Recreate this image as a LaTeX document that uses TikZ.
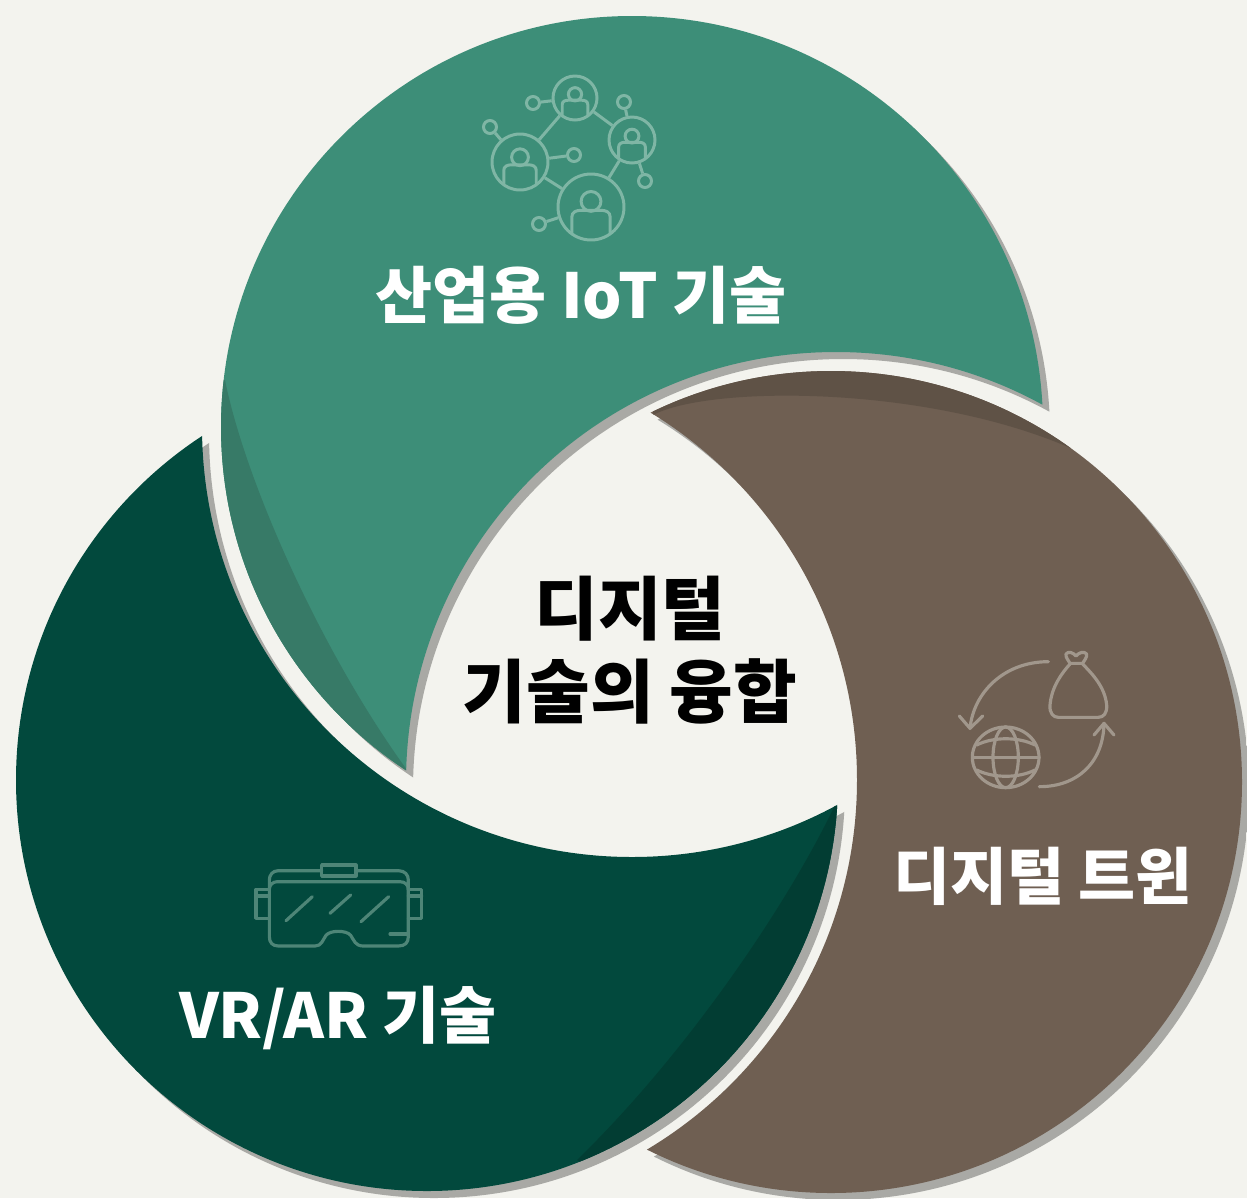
\documentclass[tikz,border=0pt]{standalone}
\usepackage{fontspec}
\newfontfamily\krfont{Noto Sans CJK KR}
\usepackage{tikz}
\usetikzlibrary{calc,positioning}

\definecolor{paper}{HTML}{F3F3EE}
\definecolor{castshadow}{HTML}{A9A9A5}
\definecolor{leaf}{HTML}{3D8E78}
\definecolor{leafdeep}{HTML}{377A67}
\definecolor{pine}{HTML}{02493D}
\definecolor{pinedeep}{HTML}{023D33}
\definecolor{soil}{HTML}{6F5F52}
\definecolor{soildeep}{HTML}{5F5246}
\definecolor{leafline}{HTML}{7FB6A5}
\definecolor{pineline}{HTML}{4E8577}
\definecolor{soilline}{HTML}{A1978C}

% one disc with a bigger neighbour disc cut away
\newcommand{\clippiece}[2]{\clip (-300,-300) rectangle (1600,1600) (#2) circle [radius=430];\clip (#1) circle [radius=411];}

\begin{document}
\begin{tikzpicture}[
    x=0.02cm, y=-0.02cm,
    title/.style={font=\krfont\bfseries\fontsize{35.3}{47}\selectfont, text=white, align=center, inner sep=0pt},
    coretitle/.style={font=\krfont\bfseries\fontsize{39.4}{47}\selectfont, text=black, align=center, inner sep=0pt},
    hub/.style={circle, draw=leafline, line width=1.7pt, inner sep=0pt, minimum size=#1},
    knob/.style={circle, draw=leafline, line width=1.7pt, inner sep=0pt, minimum size=0.26cm},
    wire/.style={leafline, line width=1.7pt},
    figure/.style={line width=1.8pt, line cap=round, line join=round}
]
    \useasboundingbox (0,0) rectangle (1247,1198);
    \fill[paper] (0,0) rectangle (1247,1198);

    \coordinate (leafc) at (632,427);
    \coordinate (pinec) at (427,780);
    \coordinate (soilc) at (831,782);
    \coordinate (soilcut) at (836,782);

    % shadows first
    \foreach \body/\gap in {leafc/soilcut, pinec/leafc, soilc/pinec} {
        \begin{scope}[even odd rule]
            \clippiece{$(\body)+(7,7)$}{$(\gap)+(7,7)$}
            \fill[castshadow] (-300,-300) rectangle (1600,1600);
        \end{scope}
    }

    % green piece
    \begin{scope}[even odd rule]
        \clippiece{leafc}{soilcut}
        \fill[leaf] (-300,-300) rectangle (1600,1600);
        \fill[leafdeep] (225,380) .. controls (245,480) and (320,650) .. (407,770) -- (100,800) -- (100,380) -- cycle;
    \end{scope}

    % dark piece
    \begin{scope}[even odd rule]
        \clippiece{pinec}{leafc}
        \fill[pine] (-300,-300) rectangle (1600,1600);
        \fill[pinedeep] (835,805) .. controls (790,900) and (690,1050) .. (577,1160) -- (800,1300) -- (1000,900) -- cycle;
    \end{scope}

    % brown piece
    \begin{scope}[even odd rule]
        \clippiece{soilc}{pinec}
        \fill[soil] (-300,-300) rectangle (1600,1600);
        \fill[soildeep] (653,415) .. controls (710,385) and (930,385) .. (1075,450) -- (1075,300) -- (653,300) -- cycle;
    \end{scope}

    % network icon
    \node[hub=0.88cm] (huba) at (575,98) {};
    \node[hub=0.92cm] (hubb) at (632,140) {};
    \node[hub=1.12cm] (hubc) at (520,162) {};
    \node[hub=1.32cm] (hubd) at (591,207) {};
    \node[knob] (knoba) at (533,103) {};
    \node[knob] (knobb) at (624,102) {};
    \node[knob] (knobc) at (645,181) {};
    \node[knob] (knobd) at (490,127) {};
    \node[knob] (knobe) at (574,155) {};
    \node[knob] (knobf) at (539,224) {};
    \draw[wire] (huba) -- (hubb);
    \draw[wire] (huba) -- (hubc);
    \draw[wire] (hubc) -- (hubd);
    \draw[wire] (hubb) -- (hubd);
    \draw[wire] (knoba) -- (huba);
    \draw[wire] (knobb) -- (hubb);
    \draw[wire] (knobc) -- (hubb);
    \draw[wire] (knobd) -- (hubc);
    \draw[wire] (knobe) -- (hubc);
    \draw[wire] (knobf) -- (hubd);
    \foreach \cx/\cy/\R in {575/98/22, 632/140/23, 520/162/28, 591/207/33} {
        \begin{scope}[shift={(\cx,\cy)}, x=\R*0.02cm, y=-\R*0.02cm]
            \draw[wire] (0,-0.17) circle [radius=0.3];
            \draw[wire] (-0.58,0.8) -- (-0.58,0.3) .. controls (-0.58,0.15) and (-0.45,0.1) .. (-0.3,0.1) -- (0.3,0.1) .. controls (0.45,0.1) and (0.58,0.15) .. (0.58,0.3) -- (0.58,0.8);
        \end{scope}
    }

    % goggles icon, in thirds of a pixel
    \begin{scope}[shift={(240,850)}, x=0.02cm/3, y=-0.02cm/3, figure, draw=pineline]
        \draw (245,62) -- (115,62) .. controls (98,62) and (88,75) .. (88,90) -- (88,260) .. controls (88,278) and (98,288) .. (115,288) -- (225,288) .. controls (245,288) and (248,270) .. (258,256) .. controls (270,240) and (320,240) .. (332,256) .. controls (342,270) and (345,288) .. (370,288) -- (475,288) .. controls (495,288) and (505,278) .. (505,260) -- (505,90) .. controls (505,75) and (495,62) .. (475,62) -- (348,62);
        \draw (245,45) rectangle (348,78);
        \draw (88,118) .. controls (88,105) and (98,95) .. (112,95) -- (480,95) .. controls (495,95) and (505,105) .. (505,118);
        \draw (450,252) -- (505,252);
        \draw (88,118) -- (48,118) -- (48,205) -- (88,205);
        \draw (48,138) -- (88,138);
        \draw (505,118) -- (545,118) -- (545,205) -- (505,205);
        \draw (505,138) -- (545,138);
        \draw (138,212) -- (217,140);
        \draw (270,190) -- (332,135);
        \draw (363,215) -- (446,140);
    \end{scope}

    % globe and bag icon, in thirds of a pixel
    \begin{scope}[shift={(940,630)}, x=0.02cm/3, y=-0.02cm/3, figure, draw=soilline]
        \draw (197,382) ellipse [x radius=100, y radius=91];
        \draw (197,382) ellipse [x radius=38, y radius=91];
        \draw (97,382) -- (297,382);
        \draw (110,345) .. controls (160,320) and (235,320) .. (285,345);
        \draw (110,420) .. controls (160,445) and (235,445) .. (285,420);
        \draw (325,95) .. controls (190,95) and (100,190) .. (90,295);
        \draw (58,258) -- (90,295) -- (128,258);
        \draw (298,470) .. controls (410,470) and (490,400) .. (492,280);
        \draw (462,315) -- (492,280) -- (522,315);
        \draw (378,72) .. controls (385,62) and (400,68) .. (408,78) .. controls (416,68) and (432,62) .. (440,72) .. controls (442,82) and (432,92) .. (428,100) -- (390,100) .. controls (386,92) and (376,82) .. (378,72) -- cycle;
        \draw (390,102) .. controls (365,130) and (335,170) .. (330,225) .. controls (328,250) and (340,262) .. (355,262) -- (475,262) .. controls (490,262) and (502,250) .. (500,225) .. controls (495,170) and (455,130) .. (428,102);
    \end{scope}

    % labels
    \node[title] (iotlabel) at (581,295) {산업용 IoT 기술};
    \node[coretitle] (corelabel) at (630,650) {디지털\\기술의 융합};
    \node[title] (twinlabel) at (1043,876) {디지털 트윈};
    \node[title] (vrlabel) at (338,1018) {VR/AR 기술};
\end{tikzpicture}
\end{document}
